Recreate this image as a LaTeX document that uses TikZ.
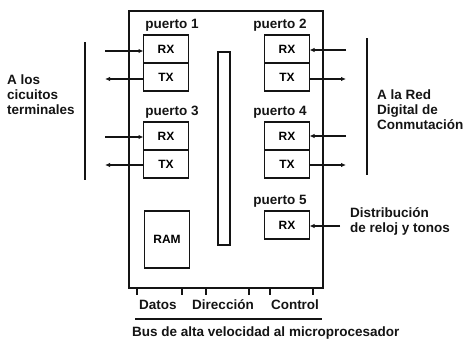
\documentclass[tikz,border=0pt]{standalone}
\usepackage{fontspec}
\setmainfont{Liberation Sans}
\usepackage{tikz}
\usetikzlibrary{arrows.meta,positioning}
\definecolor{figline}{RGB}{20,20,20}
\tikzset{
  sc/.style   ={draw=figline, line width=1.5pt},
  box/.style  ={draw=figline, line width=1.5pt, minimum width=45pt, minimum height=28pt,
                inner sep=0pt, outer sep=0pt, font=\fontsize{12}{14}\selectfont\bfseries},
  lab/.style  ={font=\fontsize{13.5}{15}\selectfont\bfseries, inner sep=1pt, text=figline},
  ptr/.style  ={draw=figline, line width=1.3pt, -{Latex[length=5pt,width=4.5pt]}},
}

\begin{document}
\begin{tikzpicture}[x=1pt,y=-1pt]
  \useasboundingbox (0,0) rectangle (467,340);
  % card and internal bus
  \draw[sc] (129,11) rectangle (323,288);
  \draw[sc,line width=1.1pt] (218,52) rectangle (230,245);
  % ports on the terminal side
  \node[box] (rx1) at (166,49) {RX};
  \node[box,below=0pt of rx1] (tx1) {TX};
  \node[lab,above=2pt of rx1,xshift=6pt] (p1) {puerto 1};
  \node[box] (rx3) at (166,136) {RX};
  \node[box,below=0pt of rx3] (tx3) {TX};
  \node[lab,above=2pt of rx3,xshift=6pt] (p3) {puerto 3};
  \node[box,minimum height=57pt] (ram) at (167,239.5) {RAM};
  % ports on the network side
  \node[box] (rx2) at (287,49) {RX};
  \node[box,below=0pt of rx2] (tx2) {TX};
  \node[lab,above=2pt of rx2,xshift=-7pt] (p2) {puerto 2};
  \node[box] (rx4) at (287,136) {RX};
  \node[box,below=0pt of rx4] (tx4) {TX};
  \node[lab,above=2pt of rx4,xshift=-7pt] (p4) {puerto 4};
  \node[box] (rx5) at (287,225) {RX};
  \node[lab,above=2pt of rx5,xshift=-7pt] (p5) {puerto 5};
  % left links
  \coordinate (a1) at (105,51);
  \coordinate (a2) at (105,79);
  \coordinate (a3) at (105,137);
  \coordinate (a4) at (105,165);
  \draw[ptr] (a1) -- (a1 -| rx1.west);
  \draw[ptr] (a2 -| tx1.west) -- (a2);
  \draw[ptr] (a3) -- (a3 -| rx3.west);
  \draw[ptr] (a4 -| tx3.west) -- (a4);
  \draw[sc] (85,42) -- (85,180);
  \node[lab,anchor=west,align=left] (term) at (6,95) {A los\\cicuitos\\terminales};
  % right links
  \coordinate (b1) at (346,50);
  \coordinate (b2) at (346,79);
  \coordinate (b3) at (346,136);
  \coordinate (b4) at (346,165);
  \coordinate (b5) at (340,226);
  \draw[ptr] (b1) -- (b1 -| rx2.east);
  \draw[ptr] (b2 -| tx2.east) -- (b2);
  \draw[ptr] (b3) -- (b3 -| rx4.east);
  \draw[ptr] (b4 -| tx4.east) -- (b4);
  \draw[ptr] (b5) -- (b5 -| rx5.east);
  \draw[sc] (367,38) -- (367,175);
  \node[lab,anchor=west,align=left] (red) at (376,110) {A la Red\\Digital de\\Conmutación};
  \node[lab,anchor=west,align=left] (clk) at (349,221.5) {Distribución\\de reloj y tonos};
  % bus to the microprocessor
  \foreach \x in {137,182,206,249,270,313}
    \draw[sc] (\x,288) -- (\x,295);
  \node[lab] (dat) at (158,305) {Datos};
  \node[lab] (dir) at (223,305) {Dirección};
  \node[lab] (ctl) at (295,305) {Control};
  \draw[sc] (135,319) -- (322,319);
  \node[lab,anchor=west] (bus) at (131,333) {Bus de alta velocidad al microprocesador};
\end{tikzpicture}
\end{document}
